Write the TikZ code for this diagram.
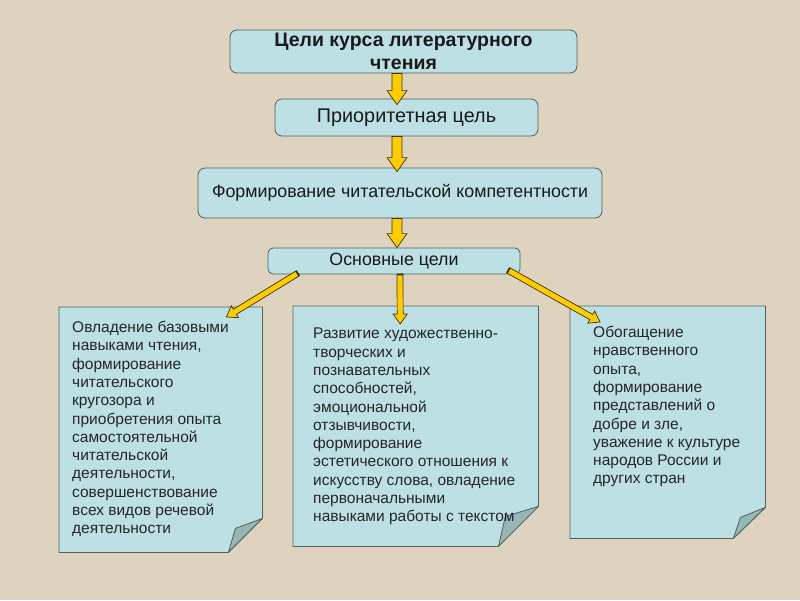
\documentclass[tikz,border=0pt]{standalone}
\usepackage{fontspec}
\setmainfont{Liberation Sans}
\usetikzlibrary{calc}
\definecolor{bg}{RGB}{221,211,191}
\definecolor{boxfill}{RGB}{189,224,228}
\definecolor{boxline}{RGB}{85,95,95}
\definecolor{foldfill}{RGB}{150,182,184}
\definecolor{arrfill}{RGB}{255,204,0}
\definecolor{arrline}{RGB}{60,50,20}
\tikzset{
  goalbox/.style={draw=boxline, fill=boxfill, rounded corners=7pt, line width=0.8pt, inner sep=0pt, align=center, text=black!90},
  notebox/.style={inner sep=0pt, anchor=north west},
  notetext/.style={anchor=north west, inner sep=0pt, align=left, font=\fontsize{15.5}{18.3}\selectfont, text=black!85},
  blockarrow/.style={draw=arrline, fill=arrfill, line width=0.7pt, line join=miter},
  notepage/.style={draw=boxline, fill=boxfill, line width=0.8pt},
  foldpart/.style={draw=boxline, fill=foldfill, line width=0.8pt, line join=round},
}
% #1 from, #2 to, #3 half shaft, #4 half head, #5 head length
\newcommand\blockarr[5]{%
  \coordinate (ba-h) at ($(#2)!#5!(#1)$);
  \draw[blockarrow] ($(#1)!#3!90:(#2)$) -- ($(ba-h)!#3!90:(#2)$) -- ($(ba-h)!#4!90:(#2)$)
    -- (#2) -- ($(ba-h)!#4!-90:(#2)$) -- ($(ba-h)!#3!-90:(#2)$) -- ($(#1)!#3!-90:(#2)$) -- cycle;
  \draw[draw=arrline, line width=1.8pt] ($(#1)!#3!90:(#2)$) -- ($(#1)!#3!-90:(#2)$);
}
% #1 node, #2 fold x inset, #3 fold y inset
\newcommand\notepg[3]{%
  \draw[notepage] (#1.north west) -- (#1.north east) -- ($(#1.south east)+(0,-#3)$)
    -- ($(#1.south east)+(-#2,0)$) -- (#1.south west) -- cycle;
  \draw[foldpart] ($(#1.south east)+(0,-#3)$) -- ($(#1.south east)+(-#2,0)$)
    -- ($(#1.south east)+(-#2+7,-#3+10)$) -- cycle;
}
\begin{document}
\begin{tikzpicture}[x=1pt,y=-1pt]
\fill[bg] (0,0) rectangle (800,600);
\useasboundingbox (0,0) rectangle (800,600);

\node[goalbox, minimum width=347pt, minimum height=43pt, font=\bfseries\fontsize{19.5}{23}\selectfont] (t1) at (403.5,51.5) {Цели курса литературного\\чтения};
\node[goalbox, minimum width=263pt, minimum height=37pt, font=\fontsize{19.8}{22}\selectfont] (t2) at (406.5,117.5) {Приоритетная цель};
\node[goalbox, minimum width=404pt, minimum height=50pt, font=\fontsize{17.8}{20}\selectfont] (t3) at (400,193) {Формирование читательской компетентности};
\node[goalbox, rounded corners=5pt, minimum width=252pt, minimum height=26pt, font=\fontsize{17.8}{20}\selectfont] (t4) at (394,261) {Основные цели};

\node[notebox, minimum width=203pt, minimum height=245pt] (n1) at (59,307) {};
\node[notebox, minimum width=245pt, minimum height=240pt] (n2) at (293,306) {};
\node[notebox, minimum width=195pt, minimum height=232pt] (n3) at (570,306) {};
\notepg{n1}{34}{34}
\notepg{n2}{40}{40}
\notepg{n3}{32}{31}

\node[notetext] (n1t) at ($(n1.north west)+(13,14)$) {Овладение базовыми\\навыками чтения,\\формирование\\читательского\\кругозора и\\приобретения опыта\\самостоятельной\\читательской\\деятельности,\\совершенствование\\всех видов речевой\\деятельности};
\node[notetext] (n2t) at ($(n2.north west)+(20,22)$) {Развитие художественно-\\творческих и\\познавательных\\способностей,\\эмоциональной\\отзывчивости,\\формирование\\эстетического отношения к\\искусству слова, овладение\\первоначальными\\навыками работы с текстом};
\node[notetext] (n3t) at ($(n3.north west)+(23,20)$) {Обогащение\\нравственного\\опыта,\\формирование\\представлений о\\добре и зле,\\уважение к культуре\\народов России и\\других стран};

\coordinate (a1s) at ($(t1.south)+(-6.5,0)$);
\coordinate (a1e) at ($(t2.north)+(-9.5,6)$);
\coordinate (a2s) at ($(t2.south)+(-9.5,0)$);
\coordinate (a2e) at ($(t3.north)+(-3,4)$);
\coordinate (a3s) at ($(t3.south)+(-3,0)$);
\coordinate (a3e) at ($(t4.north)+(3,0)$);
\coordinate (a4s) at ($(t4.south)+(6,0)$);
\coordinate (a4e) at ($(n2.north)+(-15.5,18)$);
\coordinate (a5s) at ($(t4.south west)+(30,-1)$);
\coordinate (a5e) at ($(n1.north east)+(-36,10)$);
\coordinate (a6s) at ($(t4.south east)+(-12,-4)$);
\coordinate (a6e) at ($(n3.north west)+(30,16)$);

\blockarr{a1s}{a1e}{5pt}{10pt}{14pt}
\blockarr{a2s}{a2e}{5pt}{10pt}{14pt}
\blockarr{a3s}{a3e}{5pt}{10pt}{14pt}
\blockarr{a4s}{a4e}{3pt}{7pt}{10pt}
\blockarr{a5s}{a5e}{3pt}{7pt}{10pt}
\blockarr{a6s}{a6e}{3pt}{7pt}{10pt}
\end{tikzpicture}
\end{document}
